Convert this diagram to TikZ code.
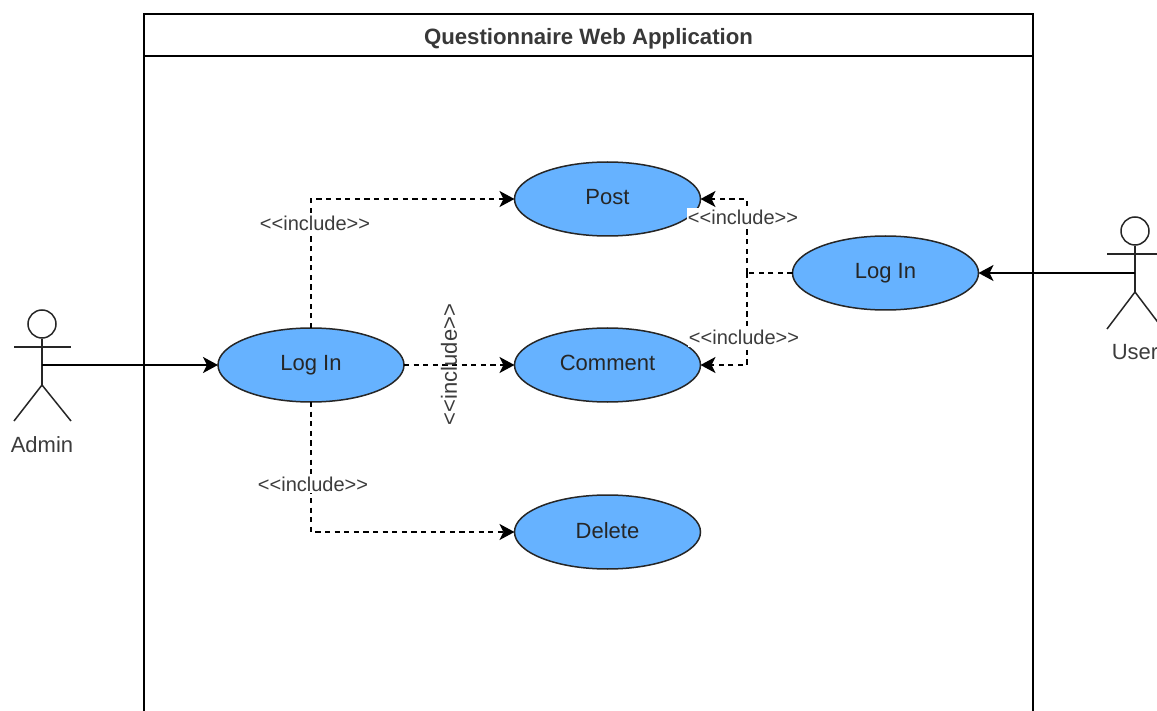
\documentclass[tikz,border=0pt]{standalone}
\usepackage{fontspec}
\setmainfont{Liberation Sans}
\usetikzlibrary{arrows.meta,shapes.geometric}

\definecolor{casefill}{HTML}{66B2FF}
\definecolor{labelgray}{HTML}{3C3C3C}

\tikzset{
  usecase/.style={ellipse,draw=black!85,line width=0.75pt,fill=casefill,inner sep=0pt,outer sep=0pt,
    minimum width=93pt,minimum height=37pt,text height=8pt,text depth=2pt,
    font=\fontsize{11}{13}\selectfont,text=black!85},
  frameline/.style={black,line width=0.8pt},
  actorline/.style={black!85,line width=0.75pt},
  actorname/.style={font=\fontsize{11}{13}\selectfont,text=labelgray,inner sep=0pt},
  assoc/.style={black,line width=0.95pt,-{Stealth[length=7.5pt,width=8pt,inset=2pt]}},
  includeline/.style={assoc,dash pattern=on 2.6pt off 2.2pt},
  includeplain/.style={black,line width=0.95pt,dash pattern=on 2.6pt off 2.2pt},
  includelabel/.style={font=\fontsize{10}{11}\selectfont,text=labelgray,fill=white,inner xsep=0.5pt,inner ysep=1pt}
}

\begin{document}
\begin{tikzpicture}[x=0.5pt,y=-0.5pt]
\clip (0,0) rectangle (1157,711);
\useasboundingbox (0,0) rectangle (1157,711);

% Define the columns and rows
\pgfmathsetmacro{\Xleft}{311};
\pgfmathsetmacro{\Xmid}{607.5};
\pgfmathsetmacro{\Xright}{885.5};
\pgfmathsetmacro{\Xjoin}{747};
\pgfmathsetmacro{\Ypost}{199};
\pgfmathsetmacro{\Yright}{273};
\pgfmathsetmacro{\Ycomment}{365};
\pgfmathsetmacro{\Ydelete}{532};

% draw the system frame
\node[draw,frameline,minimum width=444.5pt,minimum height=21pt,inner sep=0pt,outer sep=0pt,
      text height=10pt,text depth=0pt,font=\fontsize{11.1}{13}\selectfont\bfseries,text=black!78] (title) at (588.5,35) {Questionnaire Web Application};
\coordinate (frameend) at (144,730);
\draw [frameline] (title.south west) -- (title.south west |- frameend);
\draw [frameline] (title.south east) -- (title.south east |- frameend);

% Draw the use cases
\node[usecase] (post) at (\Xmid,\Ypost) {Post};
\node[usecase] (comment) at (\Xmid,\Ycomment) {Comment};
\node[usecase] (delete) at (\Xmid,\Ydelete) {Delete};
\node[usecase] (loginA) at (\Xleft,\Ycomment) {Log In};
\node[usecase] (loginU) at (\Xright,\Yright) {Log In};

% Draw the admin actor
\node[circle,draw,actorline,minimum size=14pt,inner sep=0pt] (adminhead) at (42,324) {};
\coordinate (adminhip) at (42,385);
\coordinate (adminhand) at (42,\Ycomment);
\draw [actorline] (adminhead.south) -- (adminhip);
\draw [actorline] (14,347) -- (71,347);
\draw [actorline] (14,421) -- (adminhip) -- (71,421);
\node[actorname] (adminname) at (42,445) {Admin};

% Draw the user actor
\node[circle,draw,actorline,minimum size=14pt,inner sep=0pt] (userhead) at (1135,231) {};
\coordinate (userhip) at (1135,292);
\coordinate (userhand) at (1135,\Yright);
\draw [actorline] (userhead.south) -- (userhip);
\draw [actorline] (1107,254) -- (1163,254);
\draw [actorline] (1107,329) -- (userhip) -- (1163,329);
\node[actorname] (username) at (1135,352) {User};

% actors to their log in
\draw [assoc] (adminhand) -- (loginA.west);
\draw [assoc] (userhand) -- (loginU.east);

% left include lines
\draw [includeline] (loginA.north) |- (post.west);
\draw [includeline] (loginA.east) -- (comment.west);
\draw [includeline] (loginA.south) |- (delete.west);

% right include lines
\coordinate (joinU) at (\Xjoin,\Yright);
\draw [includeplain] (loginU.west) -- (joinU);
\draw [includeline] (joinU) |- (post.east);
\draw [includeline] (joinU) |- (comment.east);

% the labels
\node[includelabel] (incpost) at (315,223) {<{}<include>{}>};
\node[includelabel] (incdelete) at (313,484) {<{}<include>{}>};
\node[includelabel] (incpostU) at (743,217) {<{}<include>{}>};
\node[includelabel] (inccommentU) at (744,337.5) {<{}<include>{}>};
\node[includelabel,fill=none,rotate=90,font=\fontsize{11}{12}\selectfont] (inccomment) at (449,364.5) {<{}<include>{}>};
\end{tikzpicture}
\end{document}
